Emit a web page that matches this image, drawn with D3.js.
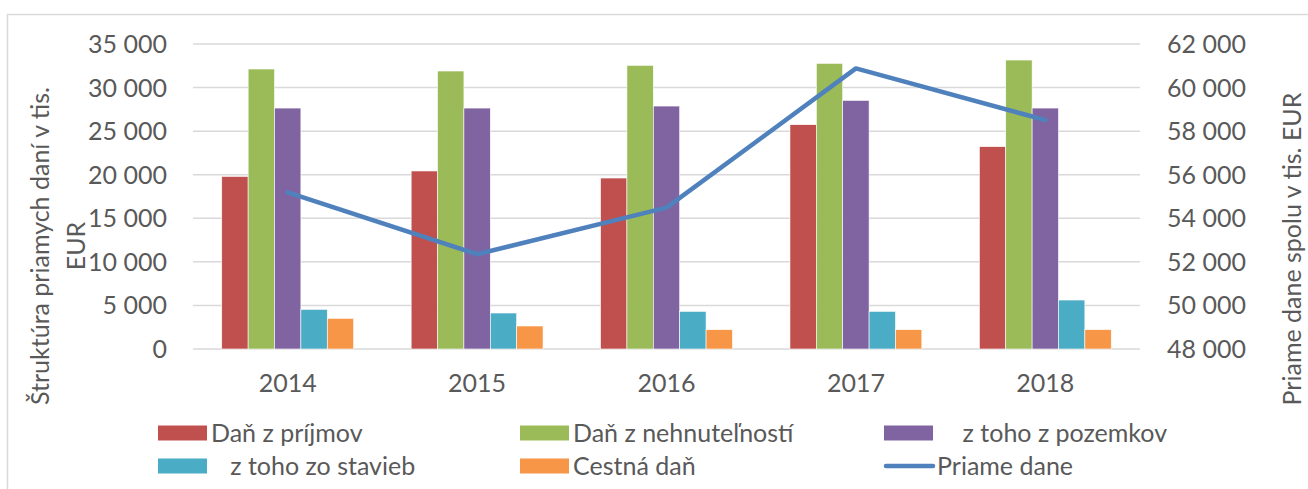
<!DOCTYPE html>
<html>
<head>
<meta charset="utf-8">
<script src="https://cdn.jsdelivr.net/npm/d3@7"></script>
<style>
  html, body { margin: 0; padding: 0; background: #fff; }
  svg { display: block; }
  text { font-family: Lato, "Noto Sans", sans-serif; fill: #595959; }
</style>
</head>
<body>
<svg id="chart" width="1308" height="489"></svg>
<script>
// ---- data ----
const years = ["2014", "2015", "2016", "2017", "2018"];
const seriesNames = ["Daň z príjmov", "Daň z nehnuteľností", "    z toho z pozemkov", "   z toho zo stavieb", "Cestná daň"];
const danPrijmov      = [19800, 20430, 19620, 25740, 23220];
const danNehnutelnost = [32130, 31900, 32550, 32780, 33160];
const zPozemkov       = [27650, 27650, 27880, 28530, 27650];
const zoStavieb       = [4550, 4130, 4320, 4320, 5620];
const cestnaDan       = [3520, 2640, 2220, 2220, 2220];
const lineName = "Priame dane";
const priameDane      = [55190, 52350, 54490, 60880, 58510];
const leftTicks  = [0, 5000, 10000, 15000, 20000, 25000, 30000, 35000];
const rightTicks = [48000, 50000, 52000, 54000, 56000, 58000, 60000, 62000];
const leftTitle  = ["Štruktúra priamych daní v tis.", "EUR"];
const rightTitle = "Priame dane spolu v tis. EUR";
const colors = ["#C0504D", "#9BBB59", "#8064A2", "#4BACC6", "#F79646"];
const lineColor = "#4F81BD";

const barSeries = [danPrijmov, danNehnutelnost, zPozemkov, zoStavieb, cestnaDan];

// ---- layout ----
const svg = d3.select("#chart");
const plot = { left: 193, right: 1140, top: 44, bottom: 349 };
const fmt = v => d3.format(",")(v).replace(/,/g, " ");

// chart area border
svg.append("path")
  .attr("d", "M7.5,489 L7.5,14.5 L1308,14.5")
  .attr("fill", "none").attr("stroke", "#d9d9d9").attr("stroke-width", 1.5);

const x0 = d3.scaleBand().domain(years).range([plot.left, plot.right]).paddingInner(0).paddingOuter(0);
const x1 = d3.scaleBand().domain(d3.range(seriesNames.length)).range([0, x0.bandwidth()]).paddingInner(0).paddingOuter(1.09);
const yL = d3.scaleLinear().domain([0, 35000]).range([plot.bottom, plot.top]);
const yR = d3.scaleLinear().domain([48000, 62000]).range([plot.bottom, plot.top]);

// gridlines
svg.append("g").selectAll("line").data(leftTicks).join("line")
  .attr("x1", plot.left).attr("x2", plot.right)
  .attr("y1", d => yL(d)).attr("y2", d => yL(d))
  .attr("stroke", "#d9d9d9").attr("stroke-width", 1.5);

// left axis labels
svg.append("g").selectAll("text").data(leftTicks).join("text")
  .attr("x", 167).attr("y", d => yL(d)).attr("dy", "0.36em")
  .attr("text-anchor", "end").style("font-size", "25px")
  .text(d => fmt(d));

// right axis labels
svg.append("g").selectAll("text").data(rightTicks).join("text")
  .attr("x", 1167).attr("y", d => yR(d)).attr("dy", "0.36em")
  .attr("text-anchor", "start").style("font-size", "25px")
  .text(d => fmt(d));

// x labels
svg.append("g").selectAll("text").data(years).join("text")
  .attr("x", d => x0(d) + x0.bandwidth() / 2).attr("y", 392)
  .attr("text-anchor", "middle").style("font-size", "25px")
  .text(d => d);

// bars
const groups = svg.append("g").selectAll("g").data(years).join("g")
  .attr("transform", d => `translate(${x0(d)},0)`);
groups.selectAll("rect").data((d, i) => barSeries.map((s, k) => ({ k, v: s[i] }))).join("rect")
  .attr("x", d => x1(d.k)).attr("width", x1.bandwidth())
  .attr("y", d => yL(d.v)).attr("height", d => yL(0) - yL(d.v))
  .attr("fill", d => colors[d.k])
  .attr("stroke", "#ffffff").attr("stroke-width", 0.6);

// line
const line = d3.line().x((d, i) => x0(years[i]) + x0.bandwidth() / 2).y(d => yR(d));
svg.append("path").datum(priameDane)
  .attr("d", line).attr("fill", "none")
  .attr("stroke", lineColor).attr("stroke-width", 4.5)
  .attr("stroke-linejoin", "round").attr("stroke-linecap", "round");

// axis titles
const lt = svg.append("text").attr("transform", "translate(40,246) rotate(-90)")
  .attr("text-anchor", "middle").style("font-size", "25px");
lt.append("tspan").attr("x", 0).attr("dy", "0.35em").text(leftTitle[0]);
lt.append("tspan").attr("x", 0).attr("dy", "1.45em").text(leftTitle[1]);

svg.append("text").attr("transform", "translate(1292,249) rotate(-90)")
  .attr("text-anchor", "middle").attr("dy", "0.35em").style("font-size", "25px")
  .text(rightTitle);

// legend
const legendItems = seriesNames.map((n, k) => ({ name: n, color: colors[k], type: "bar" }))
  .concat([{ name: lineName, color: lineColor, type: "line" }]);
const colX = [158, 520, 884];
const rowY = [433, 466];
const lg = svg.append("g").selectAll("g").data(legendItems).join("g")
  .attr("transform", (d, i) => `translate(${colX[i % 3]},${rowY[Math.floor(i / 3)]})`);
lg.filter(d => d.type === "bar").append("rect")
  .attr("x", 0).attr("y", -7.5).attr("width", 49).attr("height", 15).attr("fill", d => d.color);
lg.filter(d => d.type === "line").append("line")
  .attr("x1", 2).attr("x2", 49).attr("y1", 0).attr("y2", 0)
  .attr("stroke", d => d.color).attr("stroke-width", 4.5).attr("stroke-linecap", "round");
lg.append("text").attr("x", 53).attr("y", 0).attr("dy", "0.36em")
  .style("font-size", "25px").style("white-space", "pre")
  .text(d => d.name);
</script>
</body>
</html>
